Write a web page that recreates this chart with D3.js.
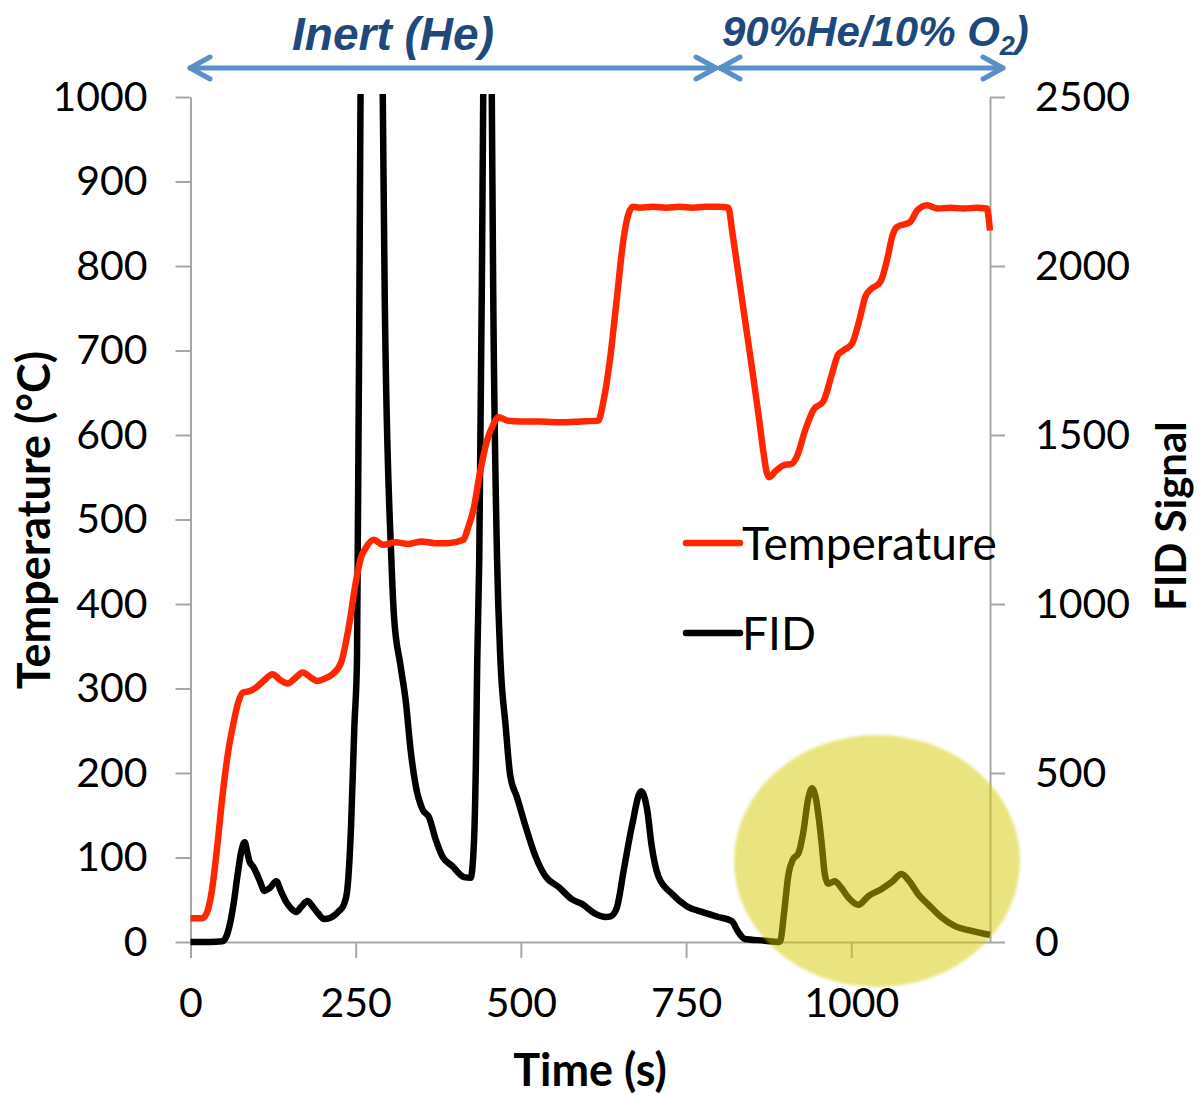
<!DOCTYPE html>
<html>
<head>
<meta charset="utf-8">
<script src="https://cdn.jsdelivr.net/npm/d3@7/dist/d3.min.js"></script>
<style>
  body { margin: 0; background: #fff; }
</style>
</head>
<body>
<div id="chart"></div>
<script>
// Data
const tempTime = [0, 18, 25, 32, 40, 49, 57, 64, 72, 79, 90, 99, 112, 124, 136, 147, 158, 170, 182, 192, 204, 215, 228, 240, 250, 258, 265, 277, 292, 310, 330, 350, 370, 390, 413, 420, 428, 438, 449, 458, 466, 480, 500, 530, 560, 590, 617, 625, 635, 645, 655, 663, 670, 680, 700, 720, 740, 760, 780, 800, 814, 820, 830, 840, 850, 860, 867, 872, 876, 885, 897, 910, 918, 930, 943, 958, 970, 980, 988, 1001, 1012, 1022, 1029, 1044, 1055, 1062, 1069, 1089, 1100, 1115, 1130, 1150, 1170, 1190, 1205, 1210]
const tempValue = [28, 28, 35, 59, 110, 177, 225, 255, 283, 295, 297, 301, 310, 317, 310, 306, 312, 319, 313, 309, 312, 317, 331, 375, 425, 455, 466, 476, 470, 473, 471, 474, 472, 472, 476, 490, 511, 555, 594, 612, 621, 617, 616, 616, 615, 616, 617, 640, 690, 760, 830, 862, 870, 869, 870, 869, 870, 869, 870, 870, 869, 840, 786, 732, 678, 622, 580, 556, 550, 557, 564, 566, 575, 605, 630, 640, 670, 695, 700, 708, 735, 765, 772, 781, 810, 835, 846, 852, 866, 872, 868, 869, 868, 869, 868, 842]

const fidTime = [0, 30, 48, 55, 59, 65, 71, 77, 82, 86, 89, 95, 99, 105, 112, 120, 130, 137, 145, 152, 160, 168, 177, 185, 193, 202, 212, 225, 232, 237, 243, 248, 252, 257, 270, 291, 294, 304, 308, 318, 326, 333, 341, 351, 361, 371, 381, 396, 414, 424, 429, 432, 434, 437, 441, 443, 449, 456, 458, 464, 469, 477, 484, 494, 507, 522, 537, 557, 577, 593, 613, 628, 636, 645, 656, 668, 682, 691, 698, 708, 729, 751, 774, 799, 819, 829, 839, 870, 890, 893, 898, 905, 912, 920, 927, 935, 941, 946, 950, 955, 960, 965, 975, 985, 995, 1011, 1026, 1046, 1061, 1076, 1089, 1101, 1116, 1136, 1157, 1182, 1210]
const fidValue = [0, 0, 2, 20, 47, 110, 195, 270, 295, 265, 240, 222, 207, 180, 151, 160, 180, 150, 118, 100, 89, 105, 121, 105, 85, 68, 72, 92, 110, 150, 343, 638, 836, 2400, 5500, 2500, 1900, 1132, 963, 816, 709, 570, 461, 393, 369, 304, 254, 225, 192, 190, 295, 541, 836, 1132, 1957, 2500, 4800, 2500, 1957, 1132, 836, 638, 491, 429, 343, 254, 195, 163, 127, 112, 83, 74, 76, 100, 216, 343, 446, 393, 284, 195, 142, 106, 89, 74, 62, 30, 9, 4, 0, 5, 80, 200, 245, 262, 320, 425, 455, 430, 380, 296, 200, 172, 180, 160, 133, 110, 136, 157, 177, 201, 177, 142, 112, 74, 47, 33, 21]

const timeTicks = [0, 250, 500, 750, 1000]
const tempTicks = d3.range(0, 1001, 100)
const fidTicks = [0, 500, 1000, 1500, 2000, 2500]
const seriesNames = ["Temperature", "FID"]
const seriesColors = ["#ff2600", "#000000"]

let width = 1198
let height = 1095
let axisGrey = "#a6a6a6"
let labelFont = "Lato, 'Open Sans', sans-serif"
let titleFont = "'Liberation Sans', Arial, sans-serif"

let svg = d3.select("#chart").append("svg")
    .attr("width", width)
    .attr("height", height)
    .style("font-family", labelFont)

let x = d3.scaleLinear().domain([0, 1210]).range([190.5, 990])
let yTemp = d3.scaleLinear().domain([0, 1000]).range([942, 97])
let yFid = d3.scaleLinear().domain([0, 2500]).range([942, 97])

// axes
function styleAxis(g) {
    g.select(".domain").attr("stroke", axisGrey).attr("stroke-width", 2)
    g.selectAll(".tick line").attr("stroke", axisGrey).attr("stroke-width", 2)
    g.selectAll(".tick text").attr("fill", "#000")
        .style("font-size", "41px").style("font-family", labelFont)
}

svg.append("g")
    .attr("transform", "translate(0,942)")
    .call(d3.axisBottom(x).tickValues(timeTicks).tickFormat(d3.format("d"))
        .tickSize(16).tickSizeOuter(0).tickPadding(30))
    .call(styleAxis)

svg.append("g")
    .attr("transform", "translate(190.5,0)")
    .call(d3.axisLeft(yTemp).tickValues(tempTicks).tickFormat(d3.format("d"))
        .tickSize(15).tickSizeOuter(0).tickPadding(28))
    .call(styleAxis)

svg.append("g")
    .attr("transform", "translate(990,0)")
    .call(d3.axisRight(yFid).tickValues(fidTicks).tickFormat(d3.format("d"))
        .tickSize(15).tickSizeOuter(0).tickPadding(30))
    .call(styleAxis)

// axis titles
svg.append("text")
    .attr("x", 590).attr("y", 1086)
    .attr("text-anchor", "middle")
    .style("font-size", "45px").style("font-weight", "bold")
    .text("Time (s)")

svg.append("text")
    .attr("transform", "translate(50,520) rotate(-90)")
    .attr("text-anchor", "middle")
    .style("font-size", "45px").style("font-weight", "bold")
    .text("Temperature (°C)")

svg.append("text")
    .attr("transform", "translate(1186,516) rotate(-90)")
    .attr("text-anchor", "middle")
    .style("font-size", "42px").style("font-weight", "bold")
    .text("FID Signal")

// lines, clipped to plot area
svg.append("clipPath").attr("id", "plot-clip")
    .append("rect").attr("x", 180).attr("y", 94).attr("width", 820).attr("height", 870)

let tempData = tempTime.map((t, i) => ({t: t, v: tempValue[i]}))
let fidData = fidTime.map((t, i) => ({t: t, v: fidValue[i]}))

let plot = svg.append("g").attr("clip-path", "url(#plot-clip)")

plot.append("path")
    .datum(fidData)
    .attr("fill", "none")
    .attr("stroke", seriesColors[1])
    .attr("stroke-width", 6.5)
    .attr("stroke-linejoin", "round")
    .attr("d", d3.line().x(d => x(d.t)).y(d => yFid(d.v)).curve(d3.curveMonotoneX))

plot.append("path")
    .datum(tempData)
    .attr("fill", "none")
    .attr("stroke", seriesColors[0])
    .attr("stroke-width", 6.5)
    .attr("stroke-linejoin", "round")
    .attr("d", d3.line().x(d => x(d.t)).y(d => yTemp(d.v)).curve(d3.curveMonotoneX))

// legend
let legend = svg.append("g").selectAll("g")
    .data(seriesNames)
    .enter().append("g")
    .attr("transform", (d, i) => "translate(686," + (543 + i * 90) + ")")

legend.append("line")
    .attr("x1", 0).attr("x2", 54)
    .attr("stroke", (d, i) => seriesColors[i])
    .attr("stroke-width", 6.5)
    .attr("stroke-linecap", "round")

legend.append("text")
    .attr("x", 56).attr("dy", "0.36em")
    .style("font-size", "46px")
    .text(d => d)

// gas phase annotations
let blue = "#5b8fc7"
let arrowY = 68
let arrows = [[190, 716], [720, 1003]]
let arrowG = svg.append("g")
    .attr("stroke", blue).attr("stroke-width", 5).attr("fill", "none")
    .attr("stroke-linecap", "round").attr("stroke-linejoin", "round")

arrows.forEach(a => {
    arrowG.append("line").attr("x1", a[0]).attr("x2", a[1]).attr("y1", arrowY).attr("y2", arrowY)
    arrowG.append("path").attr("d", "M" + (a[0] + 20) + "," + (arrowY - 11) + "L" + a[0] + "," + arrowY + "L" + (a[0] + 20) + "," + (arrowY + 11))
    arrowG.append("path").attr("d", "M" + (a[1] - 20) + "," + (arrowY - 11) + "L" + a[1] + "," + arrowY + "L" + (a[1] - 20) + "," + (arrowY + 11))
})

svg.append("text")
    .attr("x", 393).attr("y", 50)
    .attr("text-anchor", "middle")
    .style("font-family", titleFont)
    .style("font-size", "46px").style("font-weight", "bold").style("font-style", "italic")
    .attr("fill", "#1f497d")
    .text("Inert (He)")

let o2 = svg.append("text")
    .attr("x", 722).attr("y", 46)
    .style("font-family", titleFont)
    .style("font-size", "42px").style("font-weight", "bold").style("font-style", "italic")
    .attr("fill", "#1f497d")
o2.append("tspan").text("90%He/10% O")
o2.append("tspan").style("font-size", "27px").attr("dy", 9).text("2")
o2.append("tspan").attr("dy", -9).text(")")

// highlight circle
let defs = svg.append("defs")
defs.append("filter").attr("id", "soft")
    .append("feGaussianBlur").attr("stdDeviation", 1.5)

svg.append("ellipse")
    .attr("cx", 877).attr("cy", 861)
    .attr("rx", 143).attr("ry", 126)
    .attr("fill", "rgb(211,201,0)")
    .attr("fill-opacity", 0.5)
    .attr("filter", "url(#soft)")
</script>
</body>
</html>
